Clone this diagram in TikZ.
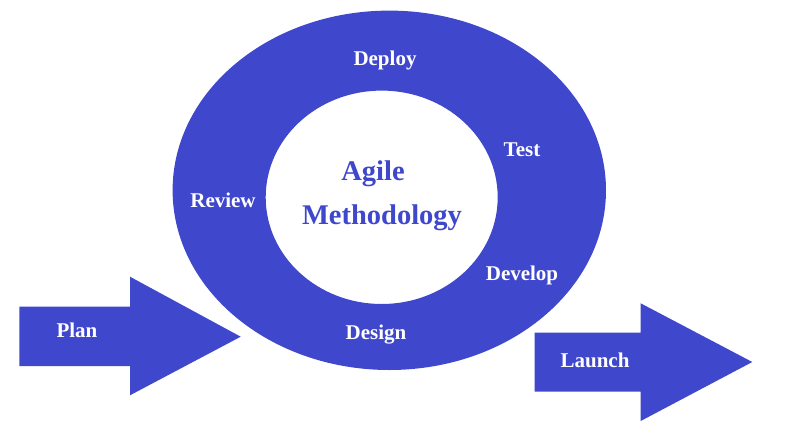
\documentclass[tikz,border=0pt]{standalone}
\usepackage{fontspec}
\setmainfont{Liberation Serif}
\definecolor{agileblue}{RGB}{63,72,204}
\begin{document}
\begin{tikzpicture}[x=1pt,y=-1pt,
  lbl/.style={anchor=base,inner sep=0pt,text=white,font=\fontsize{21}{25}\selectfont\bfseries},
  ctr/.style={anchor=base,inner sep=0pt,text=agileblue,font=\fontsize{28.5}{34}\selectfont\bfseries},
  shapefill/.style={fill=agileblue,draw=none}]
\useasboundingbox (0,0) rectangle (790,434);
% ring
\fill[agileblue,even odd rule] (389.3,190.3) ellipse [x radius=216.7,y radius=179.7]
  (381.7,197.3) ellipse [x radius=116,y radius=106.7];
% Plan arrow
\fill[shapefill] (19.3,306.7) -- (130,306.7) -- (130,276.7) -- (240.7,336.7) -- (130,395.3) -- (130,366) -- (19.3,366) -- cycle;
% Launch arrow
\fill[shapefill] (534.7,332.7) -- (640.7,332.7) -- (640.7,303.3) -- (752.3,362) -- (640.7,421) -- (640.7,391.7) -- (534.7,391.7) -- cycle;
% labels
\node[lbl] (deploy) at (385,65) {Deploy};
\node[lbl] (test) at (522,156.7) {Test};
\node[lbl] (review) at (223,207.3) {Review};
\node[lbl] (develop) at (522,280) {Develop};
\node[lbl] (design) at (376,339) {Design};
\node[lbl] (plan) at (77,337.3) {Plan};
\node[lbl] (launch) at (595,367.7) {Launch};
\node[ctr] (agile) at (373,180) {Agile};
\node[ctr] (method) at (382,224) {Methodology};
\end{tikzpicture}
\end{document}
